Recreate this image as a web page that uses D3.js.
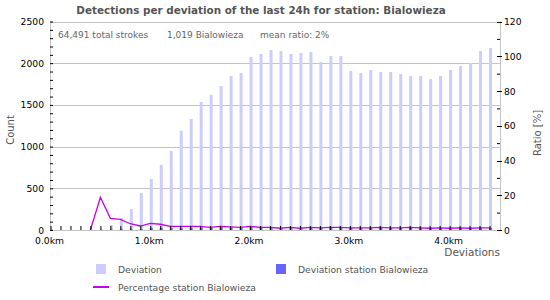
<!DOCTYPE html>
<html>
<head>
<meta charset="utf-8">
<script src="https://cdn.jsdelivr.net/npm/d3@7"></script>
<style>
  body { margin: 0; background: #fff; }
  text { font-family: "DejaVu Sans", sans-serif; }
</style>
</head>
<body>
<script>
// deviation in km, one bar every 0.1 km
const kms = d3.range(0, 45).map(i => +(i / 10).toFixed(1));
const deviation = [15, 0, 0, 0, 3, 10, 60, 144, 252, 444,
  611, 780, 947, 1190, 1331, 1535, 1619, 1727, 1847, 1883,
  2074, 2110, 2158, 2146, 2110, 2122, 2134, 2014, 2086, 2086,
  1906, 1882, 1918, 1894, 1894, 1870, 1846, 1846, 1810, 1846,
  1918, 1966, 2002, 2146, 2182];
const stationDev = [0, 0, 0, 0, 0, 2, 4, 9, 9, 10,
  23, 26, 20, 25, 28, 32, 24, 36, 33, 28,
  44, 32, 32, 21, 32, 21, 32, 24, 31, 31,
  23, 23, 23, 28, 23, 22, 28, 22, 18, 22,
  19, 24, 20, 26, 26];
const percentage = [null, null, null, null, 0, 18.8, 6.7, 6.1, 3.6, 2.3,
  3.8, 3.3, 2.1, 2.1, 2.1, 2.1, 1.5, 2.1, 1.8, 1.5,
  2.1, 1.5, 1.5, 1.0, 1.5, 1.0, 1.5, 1.2, 1.5, 1.5,
  1.2, 1.2, 1.2, 1.5, 1.2, 1.2, 1.5, 1.2, 1.0, 1.2,
  1.0, 1.2, 1.0, 1.2, 1.2];
const xLabels = [0, 1, 2, 3, 4];
const countTicks = [0, 500, 1000, 1500, 2000, 2500];
const ratioTicks = [0, 20, 40, 60, 80, 100, 120];
const infoTexts = ["64,491 total strokes", "1,019 Bialowieza", "mean ratio: 2%"];

const W = 550, H = 300;
const dims = { l: 50, r: 500, t: 21.5, b: 230 };

const svg = d3.select("body").append("svg")
  .attr("width", W).attr("height", H);

const x = d3.scaleLinear().domain([0, 4.5]).range([dims.l + 0.5, dims.r - 0.5]);
const yL = d3.scaleLinear().domain([0, 2500]).range([dims.b, dims.t]);
const yR = d3.scaleLinear().domain([0, 120]).range([dims.b, dims.t]);

// title
svg.append("text")
  .attr("x", 261).attr("y", 14)
  .attr("text-anchor", "middle")
  .attr("font-size", 10.4).attr("font-weight", "bold")
  .attr("fill", "#555")
  .text("Detections per deviation of the last 24h for station: Bialowieza");

// grid
svg.append("g").selectAll("line")
  .data(countTicks)
  .enter().append("line")
  .attr("x1", dims.l).attr("x2", dims.r)
  .attr("y1", d => Math.round(yL(d)) + 0.5).attr("y2", d => Math.round(yL(d)) + 0.5)
  .attr("stroke", "#c4c4c4");
svg.append("line")
  .attr("x1", dims.l + 0.5).attr("x2", dims.l + 0.5)
  .attr("y1", yL(2500)).attr("y2", dims.b)
  .attr("stroke", "#c4c4c4");
svg.append("line")
  .attr("x1", dims.r + 0.5).attr("x2", dims.r + 0.5)
  .attr("y1", yL(2500)).attr("y2", dims.b)
  .attr("stroke", "#c4c4c4");

// info text
svg.append("g").selectAll("text")
  .data(infoTexts)
  .enter().append("text")
  .attr("x", (d, i) => [58, 167, 260][i]).attr("y", 38)
  .attr("font-size", 9).attr("fill", "#666")
  .text(d => d);

// bars
svg.append("g").selectAll("rect")
  .data(deviation)
  .enter().append("rect")
  .attr("x", (d, i) => x(kms[i]) - 0.5)
  .attr("width", 3)
  .attr("y", d => yL(d))
  .attr("height", d => dims.b - yL(d))
  .attr("fill", "#ccccff");

svg.append("g").selectAll("rect")
  .data(stationDev)
  .enter().append("rect")
  .attr("x", (d, i) => x(kms[i]) - 0.5)
  .attr("width", 3)
  .attr("y", d => yL(d))
  .attr("height", d => dims.b - yL(d))
  .attr("fill", "#6666ff");

// percentage line
const line = d3.line()
  .defined(d => d != null)
  .x((d, i) => x(kms[i]))
  .y(d => yR(d));
svg.append("path")
  .datum(percentage)
  .attr("d", line)
  .attr("fill", "none")
  .attr("stroke", "#c800f0")
  .attr("stroke-width", 1.3);

// x axis
const xAxis = d3.axisTop(x)
  .tickValues(kms)
  .tickSize(4)
  .tickFormat("");
svg.append("g")
  .attr("transform", `translate(0,${dims.b})`)
  .call(xAxis)
  .call(g => g.select(".domain").remove())
  .call(g => g.selectAll("line").attr("stroke", "#000"));
svg.append("line")
  .attr("x1", dims.l).attr("x2", dims.r)
  .attr("y1", dims.b + 0.5).attr("y2", dims.b + 0.5)
  .attr("stroke", "#c4c4c4");
svg.append("g").selectAll("text")
  .data(xLabels)
  .enter().append("text")
  .attr("x", d => x(d) - 1)
  .attr("y", 244)
  .attr("text-anchor", "middle")
  .attr("font-size", 9.2)
  .text(d => d.toFixed(1) + "km");

// left axis
const yAxisL = d3.axisRight(yL)
  .tickValues(d3.range(0, 2501, 100))
  .tickSize(3)
  .tickFormat("");
svg.append("g")
  .attr("transform", `translate(${dims.l},0)`)
  .call(yAxisL)
  .call(g => g.select(".domain").remove());
svg.append("g").selectAll("text")
  .data(countTicks)
  .enter().append("text")
  .attr("x", 44).attr("y", d => yL(d) + 3.5)
  .attr("text-anchor", "end")
  .attr("font-size", 9.2)
  .text(d => d);

// right axis
const yAxisR = d3.axisLeft(yR)
  .tickValues(d3.range(10, 120, 20))
  .tickSize(3)
  .tickFormat("");
svg.append("g")
  .attr("transform", `translate(${dims.r},0)`)
  .call(yAxisR)
  .call(g => g.select(".domain").remove());
svg.append("g").selectAll("line")
  .data(ratioTicks)
  .enter().append("line")
  .attr("x1", dims.r - 3).attr("x2", dims.r + 2)
  .attr("y1", d => Math.round(yR(d)) + 0.5).attr("y2", d => Math.round(yR(d)) + 0.5)
  .attr("stroke", "#000");
svg.append("g").selectAll("text")
  .data(ratioTicks)
  .enter().append("text")
  .attr("x", 504).attr("y", d => yR(d) + 3.5)
  .attr("font-size", 9.2)
  .text(d => d);

// axis titles
svg.append("text")
  .attr("transform", "translate(14,130) rotate(-90)")
  .attr("text-anchor", "middle")
  .attr("font-size", 10).attr("fill", "#555")
  .text("Count");
svg.append("text")
  .attr("transform", "translate(541,133) rotate(-90)")
  .attr("text-anchor", "middle")
  .attr("font-size", 10).attr("fill", "#555")
  .text("Ratio [%]");
svg.append("text")
  .attr("x", 500).attr("y", 256)
  .attr("text-anchor", "end")
  .attr("font-size", 10.5).attr("fill", "#555")
  .text("Deviations");

// legend
const legend = svg.append("g").attr("font-size", 9.2).attr("fill", "#555");
legend.append("rect").attr("x", 96).attr("y", 264).attr("width", 10).attr("height", 10).attr("fill", "#ccccff");
legend.append("text").attr("x", 118).attr("y", 273).text("Deviation");
legend.append("rect").attr("x", 276).attr("y", 264).attr("width", 10).attr("height", 10).attr("fill", "#6666ff");
legend.append("text").attr("x", 298).attr("y", 273).text("Deviation station Bialowieza");
legend.append("line").attr("x1", 93).attr("x2", 109).attr("y1", 287).attr("y2", 287)
  .attr("stroke", "#c800f0").attr("stroke-width", 2);
legend.append("text").attr("x", 118).attr("y", 291).text("Percentage station Bialowieza");
</script>
</body>
</html>
